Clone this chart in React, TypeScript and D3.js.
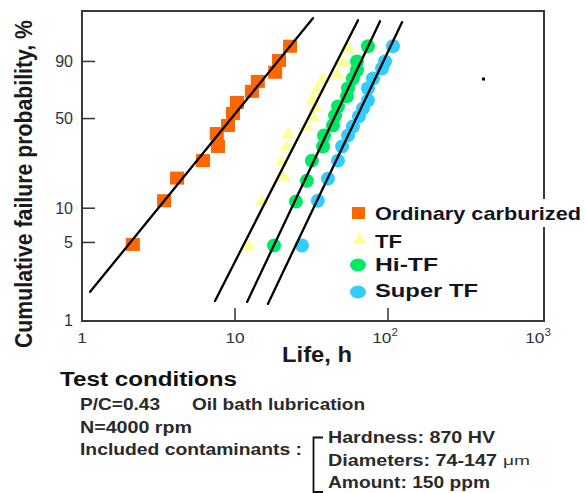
import React from "react";
import * as d3 from "d3";

// ---------- data (life in h, cumulative failure probability in %) ----------
const ordinaryPts: [number, number][] = [
  [2.15, 4.8], [3.44, 11.6], [4.18, 18.0], [6.18, 24.9], [7.74, 32.0], [7.6, 39.7],
  [9.0, 45.1], [9.7, 53.8], [10.3, 62.2], [12.9, 70.7], [14.1, 78.0], [18.3, 84.0],
  [19.4, 90.5], [22.9, 95.8],
];
const tfPts: [number, number][] = [
  [12.2, 4.7], [15.0, 11.6], [20.6, 18.6], [20.3, 24.9], [21.9, 32.0], [22.2, 39.7],
  [29.1, 45.1], [32.3, 51.6], [33.3, 59.1], [32.3, 65.3], [34.8, 73.0], [37.6, 80.0],
  [46.4, 83.3], [50.8, 90.0], [54.8, 95.2],
];
const hiTfPts: [number, number][] = [
  [18.0, 4.7], [25.0, 11.4], [29.5, 17.1], [31.8, 24.9], [37.6, 32.0], [38.2, 38.5],
  [43.7, 45.1], [45.1, 52.3], [47.1, 59.1], [53.9, 66.9], [54.8, 73.0], [59.0, 80.0],
  [62.7, 85.2], [62.7, 90.0], [74.0, 95.8],
];
const superTfPts: [number, number][] = [
  [27.4, 4.7], [34.8, 11.6], [40.5, 17.8], [47.1, 24.9], [50.1, 32.0], [54.8, 38.5],
  [59.0, 44.4], [64.6, 51.6], [68.7, 57.6], [74.0, 63.8], [74.0, 73.0], [79.8, 80.0],
  [91.4, 86.3], [95.6, 90.0], [107.8, 95.8],
];
// fitted Weibull lines: [start, end] as [life, %]
const ordinaryFit: [number, number][] = [[1.13, 1.8], [32.3, 99.67]];
const tfFit: [number, number][] = [[7.4, 1.49], [63.7, 99.58]];
const hiTfFit: [number, number][] = [[12.0, 1.46], [88.7, 99.53]];
const superTfFit: [number, number][] = [[16.4, 1.4], [123.5, 99.48]];

const yTicks = [1, 5, 10, 50, 90];
const xTicks = [1, 10, 100, 1000];
const xTickLabels = [["1", ""], ["10", ""], ["10", "2"], ["10", "3"]];
const legendLabels = ["Ordinary carburized", "TF", "Hi-TF", "Super TF"];

const ORANGE = "#ff6600";
const YELLOW = "#ffff99";
const GREEN = "#00e864";
const BLUE = "#33ccff";

const wf = (p: number) => Math.log(-Math.log(1 - p / 100));

export default function App() {
  const left = 82, right = 544, top = 11, bottom = 321;
  const x = d3.scaleLog().domain([1, 1000]).range([left, 541]);
  const y = d3.scaleLinear().domain([wf(1), wf(1) + 309 / 47.58]).range([320, top]);
  const line = d3
    .line<[number, number]>()
    .x((d) => x(d[0]))
    .y((d) => y(wf(d[1])));

  const square = (d: [number, number], i: number) => (
    <rect key={i} x={x(d[0]) - 7} y={y(wf(d[1])) - 6.5} width={14} height={13} fill={ORANGE} />
  );
  const tri = (cx: number, cy: number, k: any) => (
    <path key={k} d={`M${cx},${cy - 6.5}L${cx + 7.5},${cy + 5}L${cx - 7.5},${cy + 5}Z`} fill={YELLOW} />
  );
  const circ = (col: string) => (d: [number, number], i: number) => (
    <circle key={i} cx={x(d[0])} cy={y(wf(d[1]))} r={7} fill={col} />
  );

  const font = "'Liberation Sans', Arial, Helvetica, sans-serif";
  const tcol = "#1a1a1a";

  return (
    <svg
      width={585}
      height={493}
      style={{ position: "absolute", left: 0, top: 0, background: "#fff" }}
      fontFamily={font}
    >
      <rect x={0} y={0} width={585} height={493} fill="#fff" />
      {/* markers */}
      <g>{ordinaryPts.map(square)}</g>
      <g>{tfPts.map((d, i) => tri(x(d[0]), y(wf(d[1])), i))}</g>
      <g>{hiTfPts.map(circ(GREEN))}</g>
      <g>{superTfPts.map(circ(BLUE))}</g>
      {/* fitted lines */}
      {[ordinaryFit, tfFit, hiTfFit, superTfFit].map((f, i) => (
        <path key={i} d={line(f) || ""} stroke="#000" strokeWidth={2.3} fill="none" strokeLinecap="round" />
      ))}
      {/* frame */}
      <rect x={left} y={top} width={right - left} height={bottom - top} fill="none" stroke="#3a3a3a" strokeWidth={2} />
      {/* y ticks */}
      {yTicks.map((t) => (
        <g key={t}>
          {t !== 1 && <line x1={left} x2={left + 13} y1={y(wf(t))} y2={y(wf(t))} stroke="#333" strokeWidth={1.5} />}
          <text x={73} y={y(wf(t)) + 5.5} textAnchor="end" fontSize={16} fill="#2a3440">
            {t}
          </text>
        </g>
      ))}
      {/* x ticks */}
      {xTicks.map((t, i) => (
        <g key={t}>
          {t > 1 && t < 1000 && <line x1={x(t)} x2={x(t)} y1={bottom} y2={bottom - 13} stroke="#333" strokeWidth={1.5} />}
          <text
            transform={`translate(${x(t) + (xTickLabels[i][1] ? -3 : 0)},343) scale(1.15,1)`}
            textAnchor="middle"
            fontSize={15}
            fill="#2a3440"
          >
            {xTickLabels[i][0]}
            {xTickLabels[i][1] && (
              <tspan fontSize={10} dy={-7}>
                {xTickLabels[i][1]}
              </tspan>
            )}
          </text>
        </g>
      ))}
      {/* axis titles */}
      <text
        transform="translate(32,184) scale(1.15,1) rotate(-90)"
        textAnchor="middle"
        fontSize={21}
        fontWeight="bold"
        fill={tcol}
        textLength={328}
        lengthAdjust="spacingAndGlyphs"
      >
        Cumulative failure probability, %
      </text>
      <text x={282} y={362} fontSize={22} fontWeight="bold" fill={tcol} textLength={70} lengthAdjust="spacingAndGlyphs">
        Life, h
      </text>
      {/* stray dot */}
      <rect x={482} y={77.5} width={3} height={3} fill="#000" />
      {/* legend */}
      <rect x={372} y={199} width={212} height={28} fill="#fff" />
      <rect x={352} y={207} width={13} height={12} fill={ORANGE} />
      {tri(359.5, 239, "lt")}
      <ellipse cx={358} cy={265} rx={8} ry={6.5} fill={GREEN} />
      <ellipse cx={358} cy={292} rx={8} ry={6.5} fill={BLUE} />
      {[
        { t: legendLabels[0], y: 220, w: 206 },
        { t: legendLabels[1], y: 248, w: 27 },
        { t: legendLabels[2], y: 271, w: 63 },
        { t: legendLabels[3], y: 297, w: 103 },
      ].map((l) => (
        <text key={l.t} x={375} y={l.y} fontSize={19} fontWeight="bold" fill="#14141e" textLength={l.w} lengthAdjust="spacingAndGlyphs">
          {l.t}
        </text>
      ))}
      {/* test conditions */}
      <text x={60} y={386} fontSize={20} fontWeight="bold" fill="#111" textLength={177} lengthAdjust="spacingAndGlyphs">
        Test conditions
      </text>
      {[
        { t: "P/C=0.43", x: 80, y: 410, w: 80 },
        { t: "Oil bath lubrication", x: 192, y: 410, w: 173 },
        { t: "N=4000 rpm", x: 80, y: 433, w: 112 },
        { t: "Included contaminants :", x: 80, y: 455, w: 222 },
        { t: "Hardness: 870 HV", x: 328, y: 443, w: 167 },
        { t: "Diameters: 74-147", x: 328, y: 466, w: 169 },
        { t: "Amount: 150 ppm", x: 328, y: 488, w: 162 },
      ].map((l) => (
        <text key={l.t} x={l.x} y={l.y} fontSize={16.5} fontWeight="bold" fill="#2a2a2a" textLength={l.w} lengthAdjust="spacingAndGlyphs">
          {l.t}
        </text>
      ))}
      <text x={503} y={465} fontSize={13} fill="#333" textLength={27} lengthAdjust="spacingAndGlyphs">
        μm
      </text>
      <path d="M323,437.5 H313.5 V492 H323" fill="none" stroke="#111" strokeWidth={1.8} />
    </svg>
  );
}
